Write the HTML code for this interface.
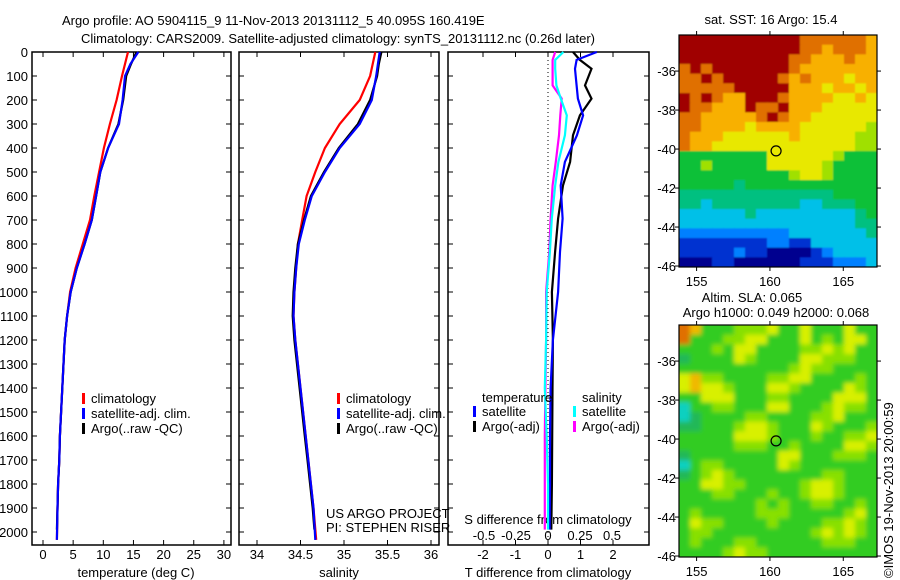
<!DOCTYPE html>
<html><head><meta charset="utf-8">
<style>
html,body{margin:0;padding:0;background:#fff;}
svg{display:block;font-family:"Liberation Sans",sans-serif;font-size:13px;}
</style></head>
<body>
<svg id="fig" width="900" height="580" viewBox="0 0 900 580">
<defs>
<filter id="blur" x="-0.1" y="-0.1" width="1.2" height="1.2"><feGaussianBlur stdDeviation="2.5"/></filter>
<filter id="blur1" x="-0.1" y="-0.1" width="1.2" height="1.2"><feGaussianBlur stdDeviation="0.8"/></filter>
<clipPath id="clip1"><rect x="679" y="35" width="198" height="232"/></clipPath>
<clipPath id="clip2"><rect x="679" y="325" width="198" height="232"/></clipPath>
</defs>
<text x="62" y="25">Argo profile: AO 5904115_9 11-Nov-2013 20131112_5 40.095S 160.419E</text>
<text x="338" y="43" text-anchor="middle">Climatology: CARS2009. Satellite-adjusted climatology: synTS_20131112.nc (0.26d later)</text>
<text x="771" y="24" text-anchor="middle">sat. SST: 16 Argo: 15.4</text>
<text x="752" y="302" text-anchor="middle">Altim. SLA: 0.065</text>
<text x="776" y="317" text-anchor="middle">Argo h1000: 0.049 h2000: 0.068</text>
<text transform="translate(893,578) rotate(-90)">©IMOS 19-Nov-2013 20:00:59</text>
<text x="136" y="577" text-anchor="middle">temperature (deg C)</text>
<text x="339" y="577" text-anchor="middle">salinity</text>
<text x="548" y="577" text-anchor="middle">T difference from climatology</text>
<text x="548" y="524" text-anchor="middle">S difference from climatology</text>
<text x="326" y="518">US ARGO PROJECT</text>
<text x="326" y="532">PI: STEPHEN RISER</text>
</svg>
<script>
// ---- data ----
const tempDepth = [0,50,100,200,300,400,500,600,700,800,900,1000,1100,1200,1300,1400,1500,1600,1700,1800,1900,2033];
const tempClim  = [14.1,13.6,13.1,12.2,11.1,10.1,9.3,8.5,7.8,6.6,5.4,4.5,4.0,3.6,3.4,3.2,3.0,2.8,2.7,2.5,2.4,2.3];
const tempSat   = [15.8,14.5,13.6,13.2,12.6,10.8,9.5,8.8,8.1,6.9,5.6,4.6,4.0,3.6,3.4,3.2,3.0,2.8,2.7,2.5,2.4,2.3];
const argoDepth = [0,50,100,200,300,400,500,600,700,800,900,1000,1100,1200,1300,1400,1500,1600,1700,1800,1900,1990];
const tempArgo  = [15.5,14.6,13.8,13.3,12.5,10.8,9.5,8.8,8.1,6.9,5.6,4.6,4.0,3.6,3.4,3.2,3.0,2.8,2.7,2.5,2.4,2.3];
const salClim   = [35.36,35.33,35.30,35.18,34.95,34.78,34.67,34.57,34.52,34.47,34.45,34.43,34.42,34.44,34.47,34.50,34.53,34.56,34.59,34.62,34.65,34.68];
const salSat    = [35.41,35.39,35.37,35.32,35.18,34.95,34.78,34.63,34.55,34.48,34.45,34.43,34.42,34.44,34.47,34.50,34.53,34.56,34.59,34.62,34.65,34.67];
const salArgo   = [35.43,35.40,35.38,35.30,35.16,34.94,34.77,34.62,34.54,34.47,34.44,34.42,34.41,34.43,34.46,34.49,34.52,34.55,34.58,34.61,34.64,34.66];
const diffDepth = [0,33,70,139,194,264,347,458,556,694,833,1000,1200,1400,1600,1800,1990];
const dTsat  = [1.5,0.88,0.83,0.88,0.92,1.08,0.89,0.52,0.39,0.45,0.37,0.31,0.15,0.08,0.06,0.06,0.05];
const dTargo = [0.77,0.98,1.34,1.14,1.34,0.98,0.77,0.68,0.46,0.31,0.22,0.12,0.15,0.14,0.13,0.12,0.1];
const dSsat  = [0.12,0.056,0.056,0.066,0.10,0.147,0.132,0.081,0.056,0.03,0.015,-0.01,-0.015,-0.025,-0.01,0.0,0.0];
const dSargo = [0.056,0.036,0.036,0.036,0.107,0.096,0.086,0.061,0.036,0.02,0.01,-0.015,-0.015,-0.02,-0.025,-0.025,-0.025];
const depthTicks = [0,100,200,300,400,500,600,700,800,900,1000,1100,1200,1300,1400,1500,1600,1700,1800,1900,2000];
const tTicks = [0,5,10,15,20,25,30];
const sTicks = [34,34.5,35,35.5,36];
const dTticks = [-2,-1,0,1,2];
const dSticks = [-0.5,-0.25,0,0.25,0.5];
const dSlabels = ["-0.5","-0.25","0","0.25","0.5"];
const dTlabels = ["-2","-1","0","1","2"];
const lonTicks = [155,160,165];
const latTicks = [-36,-38,-40,-42,-44,-46];
const argoLon = 160.419, argoLat = -40.095;
const sstGrid = [
"AAAAAAAAAAA9999998","AAAAAAAAAAA9989998","AAAAAAAAAA99888988","9A9AAAAAAA98888888",
"99A9AAAAA989888788","99999AAAAA88878878","A9A988AAA988887787","A99888A99A88877777",
"99888889A988777777","998888788887777776","988877777787777766","988777777777777766",
"555555557777776555","556555557777765555","555555555567765555","555554555555555555",
"444444444444445555","443444444443344455","333333433333333345","333333333333333344",
"222222222233333334","111111112211333333","111112110000123333","000110000001112223"];
const slaGrid = [
"985556667557555755","955566775557565775","555657755556676755","455557655557766655",
"555555555567665555","786655556677555565","787765557765555765","557775556655557775",
"355665557755567665","345555665555667555","445556776555765556","555557776555655667",
"555556665565555776","455555555775556665","356655555765555555","456765555555566555",
"557766555556776555","555665556556776555","555555565655665565","565555566655555675",
"576655556555566765","566555555555676765","565556655555566655","555567665555555555"];
const cmap = ["#00008f","#0030d0","#0080ff","#00c0e8","#00c080","#10c038","#a0e000","#e8e800","#f8b000","#e07000","#a00000"];
const cmap2 = ["#00008f","#0030d0","#0080ff","#10d0c0","#20b858","#30cc20","#88e000","#d8f000","#f0b800","#e07000","#a00000"];

// ---- helpers ----
const NS="http://www.w3.org/2000/svg";
const svg=document.getElementById('fig');
function mk(tag,attrs,parent){const e=document.createElementNS(NS,tag);for(const k in attrs)e.setAttribute(k,attrs[k]);(parent||svg).appendChild(e);return e;}
const Y0=52, PXD=0.24;
function yD(d){return Y0+d*PXD;}
const TOP=52, BOT=545;
const panels=[
 {l:32,r:231,x:v=>43+(v)*6.03},
 {l:239,r:439,x:v=>257+(v-34)*87},
 {l:448,r:649,x:v=>548+v*32.5}
];
const xS=v=>548+v*128;

function frame(p,name){
  const r=mk('rect',{x:p.l,y:TOP,width:p.r-p.l,height:BOT-TOP,fill:'none',stroke:'#000','stroke-width':1.5});
  
  
  depthTicks.forEach(d=>{
    const y=yD(d);
    mk('line',{x1:p.l,x2:p.l+5,y1:y,y2:y,stroke:'#000'});
    mk('line',{x1:p.r-5,x2:p.r,y1:y,y2:y,stroke:'#000'});
  });
}
function series(p,xf,vals,depths,color,name,w){
  let pts=vals.map((v,i)=>xf(v).toFixed(1)+','+yD(depths[i]).toFixed(1)).join(' ');
  const pl=mk('polyline',{points:pts,fill:'none',stroke:color,'stroke-width':w||2.2});
  
  
}
function xticks(p,vals,labels,xf,ylab,name){
  vals.forEach((v,i)=>{
    const x=xf(v);
    mk('line',{x1:x,x2:x,y1:TOP,y2:TOP+5,stroke:'#000'});
    mk('line',{x1:x,x2:x,y1:BOT-5,y2:BOT,stroke:'#000'});
    const t=mk('text',{x:x,y:ylab,'text-anchor':'middle'});t.textContent=labels[i];
    
    
  });
}
function legend(x,y,color,label,name){
  mk('rect',{x:x,y:y-10,width:3,height:11,fill:color});
  const t=mk('text',{x:x+9,y:y});t.textContent=label;
  
  
}

// y-axis labels
depthTicks.forEach(d=>{
  const t=mk('text',{x:28,y:yD(d)+5,'text-anchor':'end'});t.textContent=d;
  
  
});

// panel 1
frame(panels[0],'temperature-panel');
xticks(panels[0],tTicks,tTicks.map(String),panels[0].x,559,'temp-x-tick-label');
series(panels[0],panels[0].x,tempClim,tempDepth,'#ff0000','temp-climatology-line');
series(panels[0],panels[0].x,tempArgo,argoDepth,'#000000','temp-argo-line');
series(panels[0],panels[0].x,tempSat,tempDepth,'#0000ff','temp-satellite-line');
legend(82,403,'#ff0000','climatology','legend-climatology');
legend(82,418,'#0000ff','satellite-adj. clim.','legend-satellite');
legend(82,433,'#000000','Argo(..raw -QC)','legend-argo');

// panel 2
frame(panels[1],'salinity-panel');
xticks(panels[1],sTicks,sTicks.map(String),panels[1].x,559,'sal-x-tick-label');
series(panels[1],panels[1].x,salClim,tempDepth,'#ff0000','sal-climatology-line');
series(panels[1],panels[1].x,salArgo,argoDepth,'#000000','sal-argo-line');
series(panels[1],panels[1].x,salSat,tempDepth,'#0000ff','sal-satellite-line');
legend(337,403,'#ff0000','climatology','legend-sal-climatology');
legend(337,418,'#0000ff','satellite-adj. clim.','legend-sal-satellite');
legend(337,433,'#000000','Argo(..raw -QC)','legend-sal-argo');

// panel 3
frame(panels[2],'difference-panel');
xticks(panels[2],dTticks,dTlabels,panels[2].x,559,'tdiff-x-tick-label');
dSticks.forEach((v,i)=>{
  const t=mk('text',{x:xS(v),y:540,'text-anchor':'middle'});t.textContent=dSlabels[i];
  
  
});
mk('line',{x1:548,x2:548,y1:TOP,y2:BOT,stroke:'#000','stroke-dasharray':'1,3'});
series(panels[2],panels[2].x,dTargo,diffDepth,'#000000','tdiff-argo-line');
series(panels[2],panels[2].x,dTsat,diffDepth,'#0000ff','tdiff-satellite-line');
series(panels[2],xS,dSargo,diffDepth,'#ff00ff','sdiff-argo-line');
series(panels[2],xS,dSsat,diffDepth,'#00ffff','sdiff-satellite-line');
{const t=mk('text',{x:482,y:402});t.textContent='temperature';}
{const t=mk('text',{x:582,y:402});t.textContent='salinity';}
legend(473,416,'#0000ff','satellite','legend-t-satellite');
legend(473,431,'#000000','Argo(-adj)','legend-t-argo');
legend(573,416,'#00ffff','satellite','legend-s-satellite');
legend(573,431,'#ff00ff','Argo(-adj)','legend-s-argo');

// maps
function drawMap(grid,top,name,colors,clip,filt,bg){
  const L=679,R=877,H=232,T=top,B=top+H;
  const lonx=v=>L+(v-153.8)*(R-L)/13.5;
  const laty=v=>T+(-34.15-v)*H/11.9;
  const outer=mk('g',{'clip-path':'url(#'+clip+')'});
  mk('rect',{x:L,y:T,width:R-L,height:H,fill:bg},outer);
  const g=mk('g',{filter:'url(#'+filt+')'},outer);
  
  
  const rows=grid.length, cols=grid[0].length;
  const cw=(R-L)/cols, ch=H/rows;
  grid.forEach((row,ri)=>{
    for(let ci=0;ci<cols;ci++){
      const v=parseInt(row[ci],16);
      // extend edge cells outward so blur does not fade at borders
      let x=L+ci*cw, y=T+ri*ch, w=cw+0.6, h=ch+0.6;
      if(ci===0){x-=8;w+=8;} if(ci===cols-1){w+=8;}
      if(ri===0){y-=8;h+=8;} if(ri===rows-1){h+=8;}
      const c=mk('rect',{x:x.toFixed(2),y:y.toFixed(2),width:w.toFixed(2),height:h.toFixed(2),fill:colors[v]},g);
      
      
    }
  });
  mk('rect',{x:L,y:T,width:R-L,height:H,fill:'none',stroke:'#000','stroke-width':1.2});
  lonTicks.forEach(v=>{
    const x=lonx(v);
    mk('line',{x1:x,x2:x,y1:T-4,y2:T,stroke:'#000'});
    mk('line',{x1:x,x2:x,y1:B,y2:B+4,stroke:'#000'});
    const t=mk('text',{x:x,y:B+19,'text-anchor':'middle'});t.textContent=v;
    
    
  });
  latTicks.forEach(v=>{
    const y=laty(v);
    mk('line',{x1:L-4,x2:L,y1:y,y2:y,stroke:'#000'});
    mk('line',{x1:R,x2:R+4,y1:y,y2:y,stroke:'#000'});
    const t=mk('text',{x:L-3,y:y+5,'text-anchor':'end'});t.textContent=String(v);
    
    
  });
  const m=mk('circle',{cx:lonx(argoLon),cy:laty(argoLat),r:5,fill:'none',stroke:'#000','stroke-width':1.2});
  
  
}
drawMap(sstGrid,35,'sst-map',cmap,'clip1','blur1','#10c038');
drawMap(slaGrid,325,'sla-map',cmap2,'clip2','blur','#30cc20');
</script>
</body></html>
